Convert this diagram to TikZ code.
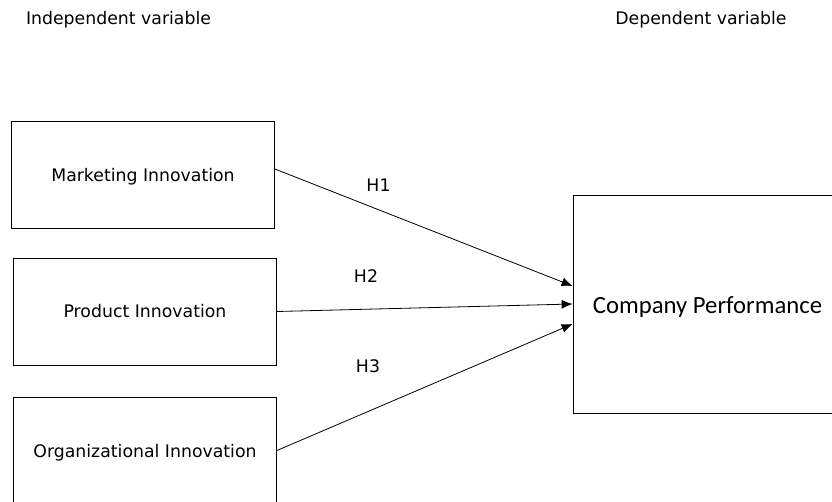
\documentclass[tikz,border=0pt]{standalone}
\usepackage{fontspec}
\setmainfont{DejaVu Sans}
\newfontfamily\perffont{Carlito}
\usetikzlibrary{arrows.meta}

\tikzstyle{varbox} = [draw,thick,rectangle,minimum width=263pt,minimum height=107pt,inner sep=0pt,font=\fontsize{17.3}{20}\selectfont]
\tikzstyle{heading} = [font=\fontsize{17.3}{20}\selectfont]
\tikzstyle{hlabel} = [font=\fontsize{17.3}{20}\selectfont]
\tikzstyle{arrowdecorate}=[-{Latex[length=11pt,width=9pt]},thick]

\begin{document}
\begin{tikzpicture}[x=1pt,y=-1pt]
    \useasboundingbox (0,0) rectangle (832,502);
    %% headings
    \node[heading] (indep) at (118.5,20) {Independent variable};
    \node[heading] (dep) at (701,20) {Dependent variable};
    %% boxes
    \foreach \nodename/\x/\y/\boxtext in {
      mkt/143/175/Marketing Innovation,
      prd/145/311.5/Product Innovation,
      org/145/450.5/Organizational Innovation}
    {
      \node[varbox,text height=17pt,text depth=4pt] (\nodename) at (\x,\y) {\boxtext};
    }
    \node[varbox,minimum width=269pt,minimum height=218pt,text height=26pt,text depth=6pt,font=\perffont\fontsize{24.7}{29}\selectfont] (comp) at (707.5,304) {Company Performance};
    \coordinate (in1) at ([yshift=18pt]comp.west);
    \coordinate (in2) at (comp.west);
    \coordinate (in3) at ([yshift=-20pt]comp.west);
    \coordinate (out1) at ([yshift=6pt]mkt.east);
    \coordinate (out2) at (prd.east);
    \coordinate (out3) at (org.east);
    %% hypotheses
    \foreach \nodename/\x/\y/\name in {
      h1/378.5/185/H1, h2/366/276/H2, h3/368/366/H3}
    {
      \node[hlabel] (\nodename) at (\x,\y) {\name};
    }
    %edges
    \path
    \foreach \startnode/\endnode in {
      out1/in1, out2/in2, out3/in3}
    {
      (\startnode) edge[arrowdecorate] (\endnode)
    };
\end{tikzpicture}
\end{document}
